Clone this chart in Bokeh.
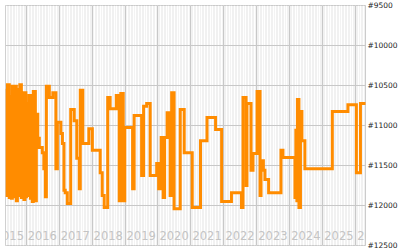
import pandas as pd
from bokeh.plotting import figure
from bokeh.models import Range1d, FixedTicker, Grid, LinearAxis
from bokeh.core.properties import value
from bokeh.embed import file_html
from bokeh.resources import INLINE

# ---- data ----
dates = [
    "2015-05-15", "2015-06-01", "2015-06-07", "2015-06-28", "2015-07-09", "2015-07-20",
    "2015-08-01", "2015-08-23", "2015-09-04", "2015-09-14", "2015-09-26", "2015-10-12",
    "2015-10-23", "2015-11-09", "2015-11-20", "2015-12-07", "2015-12-18", "2015-12-29",
    "2016-01-04", "2016-01-20", "2016-02-01", "2016-02-17", "2016-02-28", "2016-03-09",
    "2016-03-20", "2016-04-12", "2016-04-23", "2016-05-09", "2016-05-26", "2016-06-28",
    "2016-07-15", "2016-08-01", "2016-08-12", "2016-09-14", "2016-10-23", "2016-11-26",
    "2016-12-12", "2017-01-20", "2017-02-06", "2017-02-23", "2017-03-09", "2017-04-01",
    "2017-05-09", "2017-06-17", "2017-07-15", "2017-08-12", "2017-08-23", "2017-09-20",
    "2017-11-26", "2018-01-04", "2018-04-01", "2018-04-23", "2018-05-15", "2018-06-23",
    "2018-07-20", "2018-09-26", "2018-10-29", "2018-11-15", "2018-12-12", "2018-12-29",
    "2019-03-26", "2019-04-12", "2019-07-04", "2019-07-26", "2019-08-29", "2019-10-07",
    "2019-12-18", "2020-01-09", "2020-02-06", "2020-02-28", "2020-03-15", "2020-04-12",
    "2020-05-15", "2020-06-01", "2020-06-28", "2020-09-04", "2020-10-18", "2021-01-15",
    "2021-04-17", "2021-06-28", "2021-10-01", "2021-12-07", "2022-03-26", "2022-07-15",
    "2022-08-01", "2022-09-04", "2022-09-14", "2022-10-29", "2022-11-20", "2023-01-04",
    "2023-02-06", "2023-02-17", "2023-03-15", "2023-04-01", "2023-05-12", "2023-09-26",
    "2023-10-18", "2024-02-28", "2024-03-09", "2024-03-20", "2024-03-26", "2024-04-12",
    "2024-04-29", "2024-05-15", "2024-06-17", "2025-04-17", "2025-10-07", "2026-01-09",
    "2026-02-23", "2026-05-01",
]
ranks = [
    10560, 11875, 10490, 11900, 10640, 11910,
    10510, 11890, 10510, 11940, 10550, 11875,
    10490, 11900, 10590, 11925, 10590, 11890,
    10725, 11875, 10625, 11910, 10675, 11950,
    10575, 11940, 10860, 11160, 11275, 11340,
    11540, 11890, 10510, 10650, 10590, 11540,
    10960, 11100, 11225, 11810, 11840, 11975,
    10800, 10940, 11410, 11790, 10560, 11225,
    11040, 11310, 11590, 11875, 12025, 10650,
    10790, 10625, 11940, 10600, 11940, 11025,
    11790, 10875, 11625, 10760, 10725, 11625,
    11475, 11790, 11150, 11900, 11150, 10840,
    11875, 10590, 12040, 10800, 11340, 12025,
    11190, 10900, 11050, 11950, 11840, 12025,
    10650, 11750, 10725, 11560, 11350, 10575,
    11875, 11440, 11560, 11675, 11840, 11310,
    11400, 11900, 11060, 11940, 10675, 12025,
    10825, 11190, 11540, 10825, 10740, 11590,
    10725, 10725,
]
year_labels = ["2015", "2016", "2017", "2018", "2019", "2020",
               "2021", "2022", "2023", "2024", "2025", "2026"]
rank_ticks = [9500, 10000, 10500, 11000, 11500, 12000, 12500]
rank_tick_labels = ["#9500", "#10000", "#10500", "#11000", "#11500", "#12000", "#12500"]

x = pd.to_datetime(dates)
year_x = pd.to_datetime([f"{y}-01-01" for y in year_labels])
month_x = pd.date_range("2015-01-01", "2026-12-01", freq="MS")

to_ms = lambda s: [int(t.value // 10**6) for t in s]

p = figure(
    width=400, height=250,
    x_axis_type="datetime",
    x_range=Range1d(pd.Timestamp("2015-05-17"), pd.Timestamp("2026-04-20")),
    y_range=Range1d(12500, 9500),
    x_axis_location=None, y_axis_location=None,
    output_backend="svg", toolbar_location=None,
    min_border_left=5, min_border_top=5, min_border_bottom=5, min_border_right=34,
    background_fill_color="#efefef", border_fill_color="white",
    outline_line_color="#c8c8c8", outline_line_width=1,
)
p.grid.visible = False

p.add_layout(Grid(dimension=0, ticker=FixedTicker(ticks=to_ms(month_x)),
                  grid_line_color="white", grid_line_width=1.3))
p.add_layout(Grid(dimension=0, ticker=FixedTicker(ticks=to_ms(year_x)),
                  grid_line_color="#c8c8c8", grid_line_width=1))
p.add_layout(Grid(dimension=1, ticker=FixedTicker(ticks=rank_ticks),
                  grid_line_color="#c8c8c8", grid_line_width=1))

ax = LinearAxis(ticker=FixedTicker(ticks=rank_ticks),
                major_label_overrides={t: l for t, l in zip(rank_ticks, rank_tick_labels)})
ax.axis_line_color = None
ax.major_tick_line_color = None
ax.minor_tick_line_color = None
ax.major_tick_out = 0
ax.major_tick_in = 0
ax.major_label_standoff = 2
ax.major_label_text_font = "DejaVu Sans"
ax.major_label_text_font_size = "7.5px"
ax.major_label_text_color = "#222222"
p.add_layout(ax, "right")

p.text(x=year_x, y=[12379] * len(year_labels), text=year_labels,
       text_font=value("DejaVu Sans"), text_font_size="11.5px",
       text_color="#c4c4c4", text_baseline="middle", text_align="left", x_offset=1.5)

p.step(x, ranks, mode="after", line_color="#ff8c00", line_width=3, line_join="miter")

open("out.html", "w").write(file_html(p, INLINE))
